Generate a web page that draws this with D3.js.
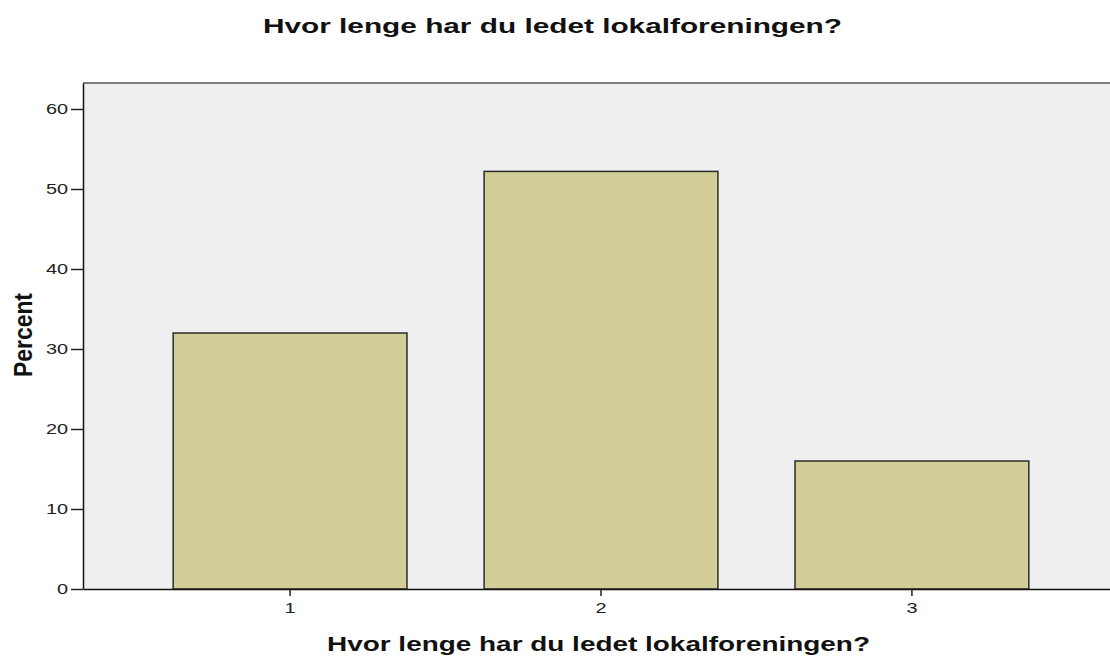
<!DOCTYPE html>
<html>
<head>
<meta charset="utf-8">
<script src="https://cdn.jsdelivr.net/npm/d3@7"></script>
<style>
  body { margin: 0; background: #fff; }
  text { font-family: "Liberation Sans", Arial, sans-serif; }
</style>
</head>
<body>
<div class="canvas"></div>
<script>
// data
const categories = [1, 2, 3]
const percents = [32, 52.2, 16]
const yTicks = [0, 10, 20, 30, 40, 50, 60]
const titleText = 'Hvor lenge har du ledet lokalforeningen?'
const xLabel = 'Hvor lenge har du ledet lokalforeningen?'
const yLabel = 'Percent'

const width = 1110
const height = 656

const svg = d3.select('.canvas')
    .append('svg')
    .attr('width', width)
    .attr('height', height)

// plot box (right side runs past the window, like the original)
const plot = {left: 83, top: 83, right: 1119, bottom: 589}

// the source picture is stretched sideways, so text is widened too
const stretch = (sel, f) => sel.each(function () {
    const w = this.getComputedTextLength()
    d3.select(this).attr('textLength', w * f).attr('lengthAdjust', 'spacingAndGlyphs')
})

svg.append('rect')
    .attr('x', plot.left)
    .attr('y', plot.top)
    .attr('width', plot.right - plot.left)
    .attr('height', plot.bottom - plot.top)
    .attr('fill', '#efefef')

svg.append('line')
    .attr('x1', plot.left).attr('x2', plot.right)
    .attr('y1', plot.top).attr('y2', plot.top)
    .attr('stroke', '#555')
    .attr('stroke-width', 1.5)

const y = d3.scaleLinear()
    .domain([0, 63.25])
    .range([plot.bottom, plot.top])

const x = d3.scaleBand()
    .domain(categories)
    .range([plot.left, plot.right])
    .paddingInner(0.248)
    .paddingOuter(0.29)

svg.selectAll('rect.bar')
    .data(percents)
    .enter()
    .append('rect')
    .attr('class', 'bar')
    .attr('x', (d, i) => x(categories[i]))
    .attr('y', d => y(d))
    .attr('width', x.bandwidth())
    .attr('height', d => plot.bottom - y(d))
    .attr('fill', '#d3ce98')
    .attr('stroke', '#2b2b2b')
    .attr('stroke-width', 1.5)

const yAxisGroup = svg.append('g')
    .attr('transform', `translate(${plot.left}, 0)`)
    .call(d3.axisLeft(y).tickValues(yTicks).tickSize(12).tickPadding(3).tickSizeOuter(0))

const xAxisGroup = svg.append('g')
    .attr('transform', `translate(0, ${plot.bottom})`)
    .call(d3.axisBottom(x).tickSize(7).tickPadding(7).tickSizeOuter(0))

svg.selectAll('.domain').attr('stroke', '#111').attr('stroke-width', 1.5)
svg.selectAll('.tick line').attr('stroke', '#222').attr('stroke-width', 1.5)
svg.selectAll('.tick text')
    .attr('font-family', '"Liberation Sans", Arial, sans-serif')
    .attr('font-size', 14)
    .attr('fill', '#222')
stretch(svg.selectAll('.tick text'), 1.42)

// title
svg.append('text')
    .attr('x', 263)
    .attr('y', 33)
    .attr('font-size', 21)
    .attr('font-weight', 'bold')
    .attr('fill', '#111')
    .attr('textLength', 579)
    .attr('lengthAdjust', 'spacingAndGlyphs')
    .text(titleText)

// x axis title
svg.append('text')
    .attr('x', 327)
    .attr('y', 651)
    .attr('font-size', 21)
    .attr('font-weight', 'bold')
    .attr('fill', '#111')
    .attr('textLength', 543)
    .attr('lengthAdjust', 'spacingAndGlyphs')
    .text(xLabel)

// y axis title
svg.append('text')
    .attr('transform', 'translate(32, 335) scale(1.35, 1) rotate(-90)')
    .attr('text-anchor', 'middle')
    .attr('font-size', 19)
    .attr('font-weight', 'bold')
    .attr('fill', '#111')
    .attr('textLength', 84)
    .attr('lengthAdjust', 'spacingAndGlyphs')
    .text(yLabel)
</script>
</body>
</html>
